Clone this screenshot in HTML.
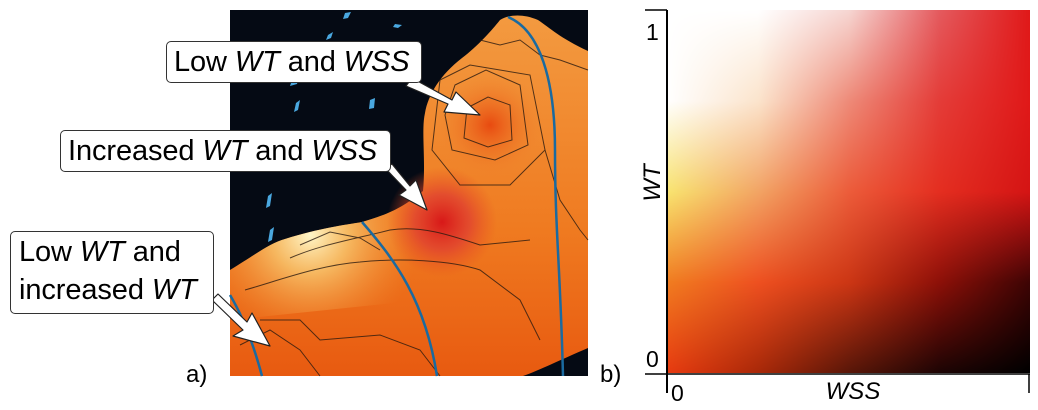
<!DOCTYPE html>
<html><head><meta charset="utf-8">
<style>
html,body{margin:0;padding:0;background:#fff;}
body{width:1038px;height:410px;position:relative;overflow:hidden;font-family:"Liberation Sans",sans-serif;}
.box{position:absolute;background:#fff;border:1.5px solid #333;border-radius:5px;font-size:29px;line-height:40px;color:#000;box-sizing:border-box;padding:0 7px;white-space:nowrap;letter-spacing:-0.1px;}
.box i{font-style:italic;}
.lbl{position:absolute;font-size:24px;color:#000;}
</style></head>
<body>
<svg width="1038" height="410" style="position:absolute;left:0;top:0">
  <defs>
    <radialGradient id="hl" cx="310" cy="235" r="110" gradientUnits="userSpaceOnUse">
      <stop offset="0" stop-color="#fff6c8"/><stop offset="0.35" stop-color="#f8c870" stop-opacity="0.8"/><stop offset="1" stop-color="#f08a30" stop-opacity="0"/>
    </radialGradient>
    <radialGradient id="red" cx="442" cy="222" r="55" gradientUnits="userSpaceOnUse">
      <stop offset="0" stop-color="#d81818"/><stop offset="0.5" stop-color="#e04030" stop-opacity="0.8"/><stop offset="1" stop-color="#e85020" stop-opacity="0"/>
    </radialGradient>
    <radialGradient id="dome" cx="490" cy="125" r="55" gradientUnits="userSpaceOnUse">
      <stop offset="0" stop-color="#e84a10"/><stop offset="1" stop-color="#f08a30" stop-opacity="0"/>
    </radialGradient>
    <linearGradient id="body" x1="0" y1="0" x2="0" y2="1">
      <stop offset="0" stop-color="#f39a40"/><stop offset="0.6" stop-color="#ef7a20"/><stop offset="1" stop-color="#e85a10"/>
    </linearGradient>
  </defs>
  <rect x="230" y="10" width="358" height="366" fill="#050a14"/>
  <g fill="#4aa8e0">
    <polygon points="268,196 272,193 270,206 266,208"/><polygon points="270,230 274,227 272,240 268,242"/>
    <polygon points="296,103 300,100 298,110 294,112"/><polygon points="292,80 299,77 297,84 290,86"/>
    <polygon points="328,35 333,32 331,38 326,40"/><polygon points="345,13 351,12 348,18 343,19"/>
    <polygon points="370,100 375,98 374,108 369,109"/><polygon points="395,24 402,25 398,28 393,27"/>
  </g>
  <path d="M230,270 C255,255 270,243 285,239 C320,228 345,225 362,222 C385,215 400,210 423,191 C426,160 421,130 425,113 C428,95 440,75 462,58 C478,46 492,30 500,20 C508,15 522,13 538,20 C550,28 560,38 588,51 L588,348 C560,360 540,370 523,376 L230,376 Z" fill="url(#body)"/>
  <path d="M230,270 C255,255 270,243 285,239 C320,228 345,225 362,222 C385,215 400,210 423,191 L423,300 L230,320 Z" fill="url(#hl)"/>
  <circle cx="442" cy="222" r="55" fill="url(#red)"/>
  <circle cx="490" cy="125" r="55" fill="url(#dome)"/>
  <g fill="none" stroke="#2a1a10" stroke-width="1" opacity="0.8">
    <path d="M467,108 L488,97 L510,105 L512,140 L488,147 L464,138 Z"/>
    <path d="M455,85 L486,70 L520,85 L528,145 L495,160 L452,150 L445,115 Z"/>
    <path d="M440,80 L470,65 L530,75 L545,150 L510,185 L460,185 L432,150 Z"/>
    <path d="M290,258 C320,245 350,240 390,230 C420,225 450,235 480,245 L530,240"/>
    <path d="M245,290 C280,280 320,265 360,262 C400,258 450,260 480,270 L520,300 L540,340"/>
    <path d="M260,320 L300,320 L320,340 L380,335 L420,350 L440,376"/>
    <path d="M240,345 L270,330 L300,350 L320,376"/>
    <path d="M300,245 L330,232 L360,238 L380,250"/>
    <path d="M545,150 L560,200 L580,230 L588,240"/>
    <path d="M480,40 L500,45 L520,40 L540,55 L560,60 L588,70"/>
  </g>
  <g fill="none" stroke="#1a6aa0" stroke-width="2.5">
    <path d="M508,17 C540,30 555,80 555,150 C555,230 560,260 563,376"/>
    <path d="M362,222 C395,260 425,300 437,376"/>
    <path d="M230,295 C245,320 255,350 262,376"/>
  </g>
  <g fill="#fff" stroke="#222" stroke-width="1.2" stroke-linejoin="round">
    <polygon points="412,78 452,100 456,92 480,115 444,112 448,104 406,86"/>
    <polygon points="385,168 406,190 399,195 427,210 416,180 410,186 392,164"/>
    <polygon points="212,300 243,330 233,336 270,346 252,313 247,322 218,294"/>
  </g>
</svg>

<div class="box" style="left:166px;top:41px;width:256px;height:42px;">Low <i>WT</i> and <i>WSS</i></div>
<div class="box" style="left:60px;top:130px;width:331px;height:42px;">Increased <i>WT</i> and <i>WSS</i></div>
<div class="box" style="left:10px;top:231px;width:204px;height:83px;padding:1px 8px;line-height:38px;">Low <i>WT</i> and<br>increased <i>WT</i></div>
<div class="lbl" style="left:186px;top:361px;">a)</div>
<div class="lbl" style="left:600px;top:361px;">b)</div>

<canvas id="cmap" width="363" height="363" style="position:absolute;left:667px;top:10px"></canvas>
<svg width="1038" height="410" style="position:absolute;left:0;top:0">
  <line x1="667" y1="10" x2="667" y2="393" stroke="#000" stroke-width="2"/>
  <line x1="645" y1="10" x2="667" y2="10" stroke="#000" stroke-width="1.5"/>
  <line x1="645" y1="374" x2="1030" y2="374" stroke="#000" stroke-width="1.5"/>
  <line x1="1029" y1="374" x2="1029" y2="393" stroke="#000" stroke-width="1.5"/>
  <text x="646" y="40" font-size="23" font-family="Liberation Sans, sans-serif">1</text>
  <text x="646" y="367" font-size="23" font-family="Liberation Sans, sans-serif">0</text>
  <text x="671" y="401" font-size="23" font-family="Liberation Sans, sans-serif">0</text>
  <text x="853" y="399" font-size="24" font-style="italic" text-anchor="middle" font-family="Liberation Sans, sans-serif">WSS</text>
  <text transform="translate(660,183) rotate(-90)" font-size="24" font-style="italic" text-anchor="middle" font-family="Liberation Sans, sans-serif">WT</text>
</svg>

<script>
// colormap grid: rows from WT=1 (top) to WT=0 (bottom), columns WSS 0..1
const wssLevels = [0, 0.25, 0.5, 0.75, 1];
const wtLevels = [1, 0.75, 0.5, 0.25, 0];
const row1 = ['#ffffff', '#ffffff', '#f6d6d2', '#e45a5e', '#e01818'];
const row2 = ['#ffffff', '#fbe4cc', '#ee8a78', '#e43c38', '#e01818'];
const row3 = ['#f8e470', '#f2a464', '#ec5c3a', '#e42e20', '#d41414'];
const row4 = ['#f07c20', '#ee5020', '#cc3614', '#8c1008', '#3c0404'];
const row5 = ['#e83a10', '#a82808', '#581608', '#1c0404', '#000000'];
const rows = [row1, row2, row3, row4, row5];

const W = 363, H = 363;
const xScale = v => v * W;
const yScale = v => (1 - v) * H;
function hex(c){return [1,3,5].map(i=>parseInt(c.substr(i,2),16));}
const cv = document.getElementById('cmap');
const ctx = cv.getContext('2d');
const img = ctx.createImageData(W, H);
const nc = wssLevels.length, nr = wtLevels.length;
const cols = rows.map(r => r.map(hex));
for (let py = 0; py < H; py++) {
  for (let px = 0; px < W; px++) {
    const wss = px / W, wt = 1 - py / H;
    let fx = wss * (nc - 1), fy = (1 - wt) * (nr - 1);
    let i0 = Math.min(nc - 2, Math.floor(fx)), j0 = Math.min(nr - 2, Math.floor(fy));
    const tx = fx - i0, ty = fy - j0;
    const k = (py * W + px) * 4;
    for (let c = 0; c < 3; c++) {
      const a = cols[j0][i0][c] * (1 - tx) + cols[j0][i0 + 1][c] * tx;
      const b = cols[j0 + 1][i0][c] * (1 - tx) + cols[j0 + 1][i0 + 1][c] * tx;
      img.data[k + c] = a * (1 - ty) + b * ty;
    }
    img.data[k + 3] = 255;
  }
}
ctx.putImageData(img, 0, 0);
</script>
</body></html>
